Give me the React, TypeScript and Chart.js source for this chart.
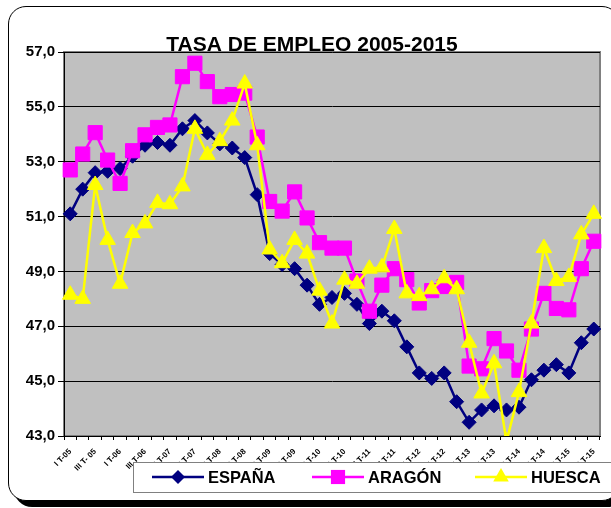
import React, { useEffect, useRef } from 'react';
import { Chart, registerables } from 'chart.js';

Chart.register(...registerables);

const categories = [
  'I T-05', 'II T-05', 'III T- 05', 'IV T-05',
  'I T-06', 'II T-06', 'III T-06', 'IV T-06',
  'I T-07', 'II T-07', 'III T-07', 'IV T-07',
  'I T-08', 'II T-08', 'III T-08', 'IV T-08',
  'I T-09', 'II T-09', 'III T-09', 'IV T-09',
  'I T-10', 'II T-10', 'III T-10', 'IV T-10',
  'I T-11', 'II T-11', 'III T-11', 'IV T-11',
  'I T-12', 'II T-12', 'III T-12', 'IV T-12',
  'I T-13', 'II T-13', 'III T-13', 'IV T-13',
  'I T-14', 'II T-14', 'III T-14', 'IV T-14',
  'I T-15', 'II T-15', 'III T-15',
];

const espana = [
  51.1, 52.0, 52.6, 52.65, 52.75, 53.2, 53.6, 53.7, 53.6, 54.2, 54.5,
  54.05, 53.65, 53.5, 53.15, 51.8, 49.65, 49.25, 49.1, 48.5, 47.8,
  48.05, 48.2, 47.8, 47.1, 47.55, 47.2, 46.25, 45.3, 45.1, 45.3,
  44.25, 43.5, 43.95, 44.1, 43.95, 44.05, 45.05, 45.4, 45.6, 45.3,
  46.4, 46.9,
];

const aragon = [
  52.7, 53.28, 54.06, 53.06, 52.21, 53.4, 53.98, 54.25, 54.34, 56.1, 56.59,
  55.92, 55.37, 55.45, 55.5, 53.9, 51.55, 51.2, 51.9, 50.95, 50.05,
  49.85, 49.85, 48.65, 47.55, 48.5, 49.1, 48.7, 47.85, 48.3, 48.45,
  48.6, 45.55, 45.45, 46.55, 46.1, 45.4, 46.9, 48.2, 47.65, 47.6,
  49.1, 50.1,
];

const huesca = [
  48.15, 48.0, 52.15, 50.15, 48.55, 50.4, 50.75, 51.5, 51.45, 52.1, 54.2,
  53.25, 53.75, 54.5, 55.85, 53.6, 49.8, 49.3, 50.15, 49.65, 48.3,
  47.1, 48.7, 48.55, 49.1, 49.15, 50.55, 48.2, 48.1, 48.35, 48.75,
  48.35, 46.4, 44.55, 45.65, 42.8, 44.6, 47.1, 49.85, 48.65, 48.8,
  50.35, 51.1,
];

const yTicks = [43, 45, 47, 49, 51, 53, 55, 57];
const seriesNames = ['ESPAÑA', 'ARAGÓN', 'HUESCA'];
const seriesColors = ['#000080', '#FF00FF', '#FFFF00'];
const seriesShapes = ['rectRot', 'rect', 'triangle'];
const titleText = 'TASA DE EMPLEO 2005-2015';

const FONT = '"Liberation Sans", Arial, sans-serif';

function drawShape(ctx: CanvasRenderingContext2D, shape: string, x: number, y: number, r: number) {
  ctx.beginPath();
  if (shape === 'rectRot') {
    ctx.moveTo(x - r, y);
    ctx.lineTo(x, y - r);
    ctx.lineTo(x + r, y);
    ctx.lineTo(x, y + r);
  } else if (shape === 'rect') {
    const s = r * Math.SQRT1_2;
    ctx.rect(x - s, y - s, 2 * s, 2 * s);
  } else {
    const w = r * Math.sin(Math.PI / 3);
    ctx.moveTo(x, y - r);
    ctx.lineTo(x + w, y + r / 2);
    ctx.lineTo(x - w, y + r / 2);
  }
  ctx.closePath();
  ctx.fill();
}

const decorPlugin = {
  id: 'decor',
  beforeDraw(chart: any) {
    const { ctx, chartArea } = chart;
    ctx.save();
    ctx.fillStyle = '#C0C0C0';
    ctx.fillRect(chartArea.left, chartArea.top, chartArea.right - chartArea.left, chartArea.bottom - chartArea.top);
    ctx.strokeStyle = '#808080';
    ctx.lineWidth = 2;
    ctx.strokeRect(chartArea.left, chartArea.top, chartArea.right - chartArea.left, chartArea.bottom - chartArea.top);
    ctx.restore();
  },
  afterDraw(chart: any) {
    const { ctx } = chart;
    ctx.save();
    // title
    ctx.fillStyle = '#000';
    ctx.font = `bold 21px ${FONT}`;
    ctx.textAlign = 'center';
    ctx.textBaseline = 'alphabetic';
    ctx.fillText(titleText, 312, 51);

    // legend box
    ctx.fillStyle = '#FFFFFF';
    ctx.fillRect(133.5, 462.5, 500, 30);
    ctx.strokeStyle = '#808080';
    ctx.lineWidth = 1;
    ctx.strokeRect(133.5, 462.5, 500, 30);

    const itemX = [152, 312, 475];
    const cy = 477;
    const radii = [7, 10, 9];
    ctx.font = `bold 16.5px ${FONT}`;
    ctx.textAlign = 'left';
    ctx.textBaseline = 'middle';
    chart.data.datasets.forEach((ds: any, i: number) => {
      const x0 = itemX[i];
      ctx.strokeStyle = seriesColors[i];
      ctx.lineWidth = 2.5;
      ctx.beginPath();
      ctx.moveTo(x0, cy);
      ctx.lineTo(x0 + 52, cy);
      ctx.stroke();
      ctx.fillStyle = seriesColors[i];
      drawShape(ctx, seriesShapes[i], x0 + 26, cy, radii[i]);
      ctx.fillStyle = '#000';
      ctx.fillText(ds.label, x0 + 56, cy + 1);
    });
    ctx.restore();
  },
};

export default function App() {
  const canvasRef = useRef<HTMLCanvasElement | null>(null);

  useEffect(() => {
    const canvas = canvasRef.current;
    if (!canvas) return;
    const mk = (i: number, data: number[], radius: number, order: number) => ({
      label: seriesNames[i],
      data,
      borderColor: seriesColors[i],
      backgroundColor: seriesColors[i],
      pointBackgroundColor: seriesColors[i],
      pointBorderColor: seriesColors[i],
      pointStyle: seriesShapes[i],
      pointRadius: radius,
      pointBorderWidth: 1,
      borderWidth: 2.5,
      tension: 0,
      order,
    });
    const chart = new Chart(canvas, {
      type: 'line',
      data: {
        labels: categories,
        datasets: [
          mk(0, espana, 7, 3),
          mk(1, aragon, 10, 2),
          mk(2, huesca, 9, 1),
        ],
      },
      options: {
        animation: false,
        responsive: false,
        maintainAspectRatio: false,
        layout: { padding: { top: 52, right: 3, left: 0, bottom: 0 } },
        plugins: {
          legend: { display: false },
          tooltip: { enabled: false },
          title: { display: false },
        },
        scales: {
          x: {
            offset: true,
            grid: { offset: true, drawOnChartArea: false, drawTicks: true, tickLength: 4, color: '#000' },
            border: { color: '#000', width: 1 },
            ticks: {
              autoSkip: false,
              maxRotation: 45,
              minRotation: 45,
              padding: 7,
              color: '#000',
              font: { size: 8, weight: 'bold', family: FONT },
              callback: (_v: any, i: number) => (i % 2 === 0 ? categories[i] : ''),
            },
            afterFit: (s: any) => { s.height = 72; },
          },
          y: {
            min: yTicks[0],
            max: yTicks[yTicks.length - 1],
            afterBuildTicks: (s: any) => { s.ticks = yTicks.map((v) => ({ value: v })); },
            grid: { color: '#000', tickLength: 6, drawTicks: true },
            border: { color: '#000', width: 1 },
            ticks: {
              padding: 3,
              color: '#000',
              font: { size: 15, weight: 'bold', family: FONT },
              callback: (v: any) => Number(v).toFixed(1).replace('.', ','),
            },
            afterFit: (s: any) => { s.width = 64; },
          },
        },
      } as any,
      plugins: [decorPlugin],
    });
    return () => chart.destroy();
  }, []);

  return (
    <div style={{ position: 'fixed', left: 0, top: 0, width: 611, height: 508, overflow: 'hidden', background: '#fff' }}>
      <div
        style={{
          position: 'absolute',
          left: 8,
          top: 6,
          width: 612,
          height: 495,
          boxSizing: 'border-box',
          border: '1px solid #000',
          borderRadius: 18,
          boxShadow: '6px 6px 0 #000',
          background: '#fff',
        }}
      />
      <canvas
        ref={canvasRef}
        width={611}
        height={508}
        style={{ position: 'absolute', left: 0, top: 0, width: 611, height: 508 }}
      />
    </div>
  );
}
